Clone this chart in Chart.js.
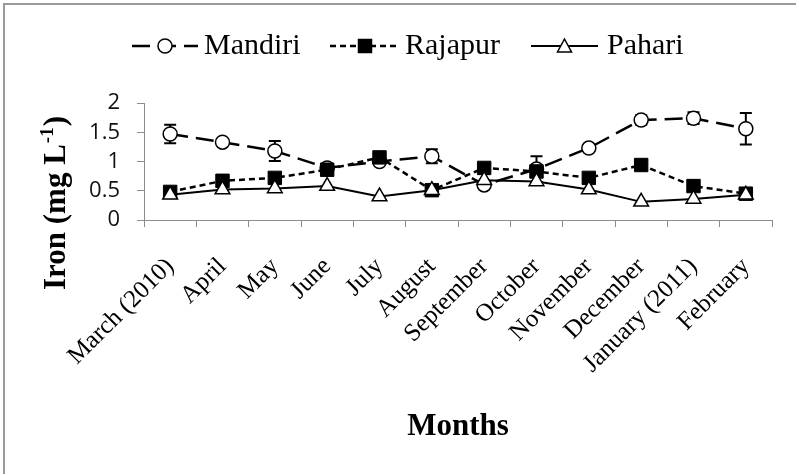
<!DOCTYPE html>
<html>
<head>
<meta charset="utf-8">
<script src="https://cdn.jsdelivr.net/npm/chart.js@4.4.1/dist/chart.umd.min.js"></script>
<style>
  html, body { margin: 0; padding: 0; background: #fff; }
  #wrap { width: 796px; height: 474px; position: relative; }
</style>
</head>
<body>
<div id="wrap"><canvas id="ironChart"></canvas></div>
<script>
"use strict";

// #region Data
const months = ["March (2010)", "April", "May", "June", "July", "August",
    "September", "October", "November", "December", "January (2011)", "February"];
const mandiri = [1.47, 1.33, 1.18, 0.89, 1.00, 1.09, 0.60, 0.87, 1.23, 1.71, 1.74, 1.56];
const mandiriErr = [0.16, 0.05, 0.17, 0, 0, 0.12, 0, 0.22, 0, 0.08, 0.10, 0.27];
const rajapur = [0.48, 0.67, 0.72, 0.86, 1.07, 0.51, 0.89, 0.83, 0.72, 0.94, 0.58, 0.45];
const pahari = [0.43, 0.52, 0.54, 0.58, 0.40, 0.51, 0.68, 0.66, 0.52, 0.31, 0.36, 0.43];
const yTicks = [0, 0.5, 1, 1.5, 2];
// #endregion

const AXIS_GREY = "#8c8c8c";
const SERIF = "'Liberation Serif', 'Times New Roman', serif";

// legend entries, drawn by hand so the dashed sample + marker look like Excel's
const legendItems = [
    { label: "Mandiri", dash: [18, 8], width: 2.5, marker: "circle", x: 132, len: 66, textX: 204 },
    { label: "Rajapur", dash: [6, 4], width: 2.5, marker: "square", x: 330, len: 70, textX: 405 },
    { label: "Pahari", dash: [], width: 2, marker: "triangle", x: 531, len: 67, textX: 607 },
];

function drawMarker(ctx, type, x, y) {
    ctx.save();
    ctx.setLineDash([]);
    ctx.lineWidth = 1.5;
    ctx.strokeStyle = "#000";
    ctx.beginPath();
    if (type === "circle") {
        ctx.fillStyle = "#fff";
        ctx.arc(x, y, 7, 0, Math.PI * 2);
    } else if (type === "square") {
        ctx.fillStyle = "#000";
        ctx.rect(x - 6.5, y - 6.5, 13, 13);
    } else {
        ctx.fillStyle = "#fff";
        ctx.moveTo(x, y - 7);
        ctx.lineTo(x + 7, y + 6);
        ctx.lineTo(x - 7, y + 6);
        ctx.closePath();
    }
    ctx.fill();
    ctx.stroke();
    ctx.restore();
}

const framePlugin = {
    id: "frame",
    beforeDraw(chart) {
        const ctx = chart.ctx;
        ctx.save();
        ctx.fillStyle = "#fff";
        ctx.fillRect(0, 0, chart.width, chart.height);
        ctx.fillStyle = "#9a9a9a";
        ctx.fillRect(3, 3, 2, chart.height);
        ctx.fillRect(3, 3, chart.width, 2);
        ctx.restore();
    },
};

const errorBarPlugin = {
    id: "errorBars",
    beforeDatasetsDraw(chart) {
        const ctx = chart.ctx;
        const yScale = chart.scales.y;
        const meta = chart.getDatasetMeta(0);
        ctx.save();
        ctx.strokeStyle = "#000";
        ctx.lineWidth = 2;
        meta.data.forEach((pt, i) => {
            const err = mandiriErr[i];
            if (!err) return;
            const top = yScale.getPixelForValue(mandiri[i] + err);
            const bot = yScale.getPixelForValue(mandiri[i] - err);
            ctx.beginPath();
            ctx.moveTo(pt.x, top);
            ctx.lineTo(pt.x, bot);
            ctx.moveTo(pt.x - 6, top);
            ctx.lineTo(pt.x + 6, top);
            ctx.moveTo(pt.x - 6, bot);
            ctx.lineTo(pt.x + 6, bot);
            ctx.stroke();
        });
        ctx.restore();
    },
};

const labelsPlugin = {
    id: "handLabels",
    afterDraw(chart) {
        const ctx = chart.ctx;
        const area = chart.chartArea;
        ctx.save();

        // legend
        const ly = 46;
        legendItems.forEach((item) => {
            ctx.save();
            ctx.strokeStyle = "#000";
            ctx.lineWidth = item.width;
            ctx.setLineDash(item.dash);
            ctx.beginPath();
            ctx.moveTo(item.x, ly);
            ctx.lineTo(item.x + item.len, ly);
            ctx.stroke();
            ctx.restore();
            drawMarker(ctx, item.marker, item.x + item.len / 2, ly);
            ctx.fillStyle = "#000";
            ctx.font = "30px " + SERIF;
            ctx.textAlign = "left";
            ctx.textBaseline = "middle";
            ctx.fillText(item.label, item.textX, ly);
        });

        // x title
        ctx.fillStyle = "#000";
        ctx.font = "bold 31px " + SERIF;
        ctx.textAlign = "center";
        ctx.textBaseline = "alphabetic";
        ctx.fillText("Months", (area.left + area.right) / 2, 435);

        // y title with superscript
        const main = "Iron (mg L";
        const sup = "-1";
        const tail = ")";
        ctx.translate(65, 203);
        ctx.rotate(-Math.PI / 2);
        ctx.font = "bold 31px " + SERIF;
        const wMain = ctx.measureText(main).width;
        const wTail = ctx.measureText(tail).width;
        ctx.font = "bold 19px " + SERIF;
        const wSup = ctx.measureText(sup).width;
        let x = -(wMain + wSup + wTail + 2) / 2;
        ctx.textAlign = "left";
        ctx.font = "bold 31px " + SERIF;
        ctx.fillText(main, x, 0);
        x += wMain + 1;
        ctx.font = "bold 19px " + SERIF;
        ctx.fillText(sup, x, -12);
        x += wSup + 1;
        ctx.font = "bold 31px " + SERIF;
        ctx.fillText(tail, x, 0);
        ctx.restore();
    },
};

const data = {
    labels: months,
    datasets: [
        {
            label: "Mandiri",
            data: mandiri,
            order: 3,
            borderColor: "#000",
            borderWidth: 2.5,
            borderDash: [18, 8],
            pointStyle: "circle",
            pointRadius: 7,
            pointBackgroundColor: "#fff",
            pointBorderColor: "#000",
            pointBorderWidth: 1.5,
            tension: 0,
        },
        {
            label: "Rajapur",
            data: rajapur,
            order: 2,
            borderColor: "#000",
            borderWidth: 2.5,
            borderDash: [6, 4],
            pointStyle: "rect",
            pointRadius: 9.5,
            pointBackgroundColor: "#000",
            pointBorderColor: "#000",
            pointBorderWidth: 1,
            tension: 0,
        },
        {
            label: "Pahari",
            data: pahari,
            order: 1,
            borderColor: "#000",
            borderWidth: 2,
            pointStyle: "triangle",
            pointRadius: 8.5,
            pointBackgroundColor: "#fff",
            pointBorderColor: "#000",
            pointBorderWidth: 1.5,
            tension: 0,
        },
    ],
};

const config = {
    type: "line",
    data: data,
    options: {
        responsive: true,
        maintainAspectRatio: false,
        animation: false,
        devicePixelRatio: 1,
        layout: { padding: { left: 0, right: 24, top: 103, bottom: 0 } },
        plugins: {
            legend: { display: false },
            tooltip: { enabled: false },
        },
        scales: {
            x: {
                offset: true,
                afterFit(scale) { scale.height = 474 - 220; },
                grid: {
                    offset: true,
                    drawOnChartArea: false,
                    drawTicks: true,
                    tickLength: 7,
                    color: AXIS_GREY,
                },
                border: { color: AXIS_GREY, width: 1 },
                ticks: {
                    autoSkip: false,
                    maxRotation: 45,
                    minRotation: 45,
                    padding: 25,
                    color: "#000",
                    font: { family: SERIF, size: 25 },
                },
            },
            y: {
                min: 0,
                max: 2,
                afterFit(scale) { scale.width = 144; },
                afterBuildTicks(scale) { scale.ticks = yTicks.map((v) => ({ value: v })); },
                grid: {
                    drawOnChartArea: false,
                    drawTicks: true,
                    tickLength: 7,
                    color: AXIS_GREY,
                },
                border: { color: AXIS_GREY, width: 1 },
                ticks: {
                    autoSkip: false,
                    padding: 17,
                    color: "#111",
                    font: { family: "'Open Sans', sans-serif", size: 22 },
                    callback: (v) => String(v),
                },
            },
        },
    },
    plugins: [framePlugin, errorBarPlugin, labelsPlugin],
};

const ironChart = new Chart(document.getElementById("ironChart"), config);
</script>
</body>
</html>
